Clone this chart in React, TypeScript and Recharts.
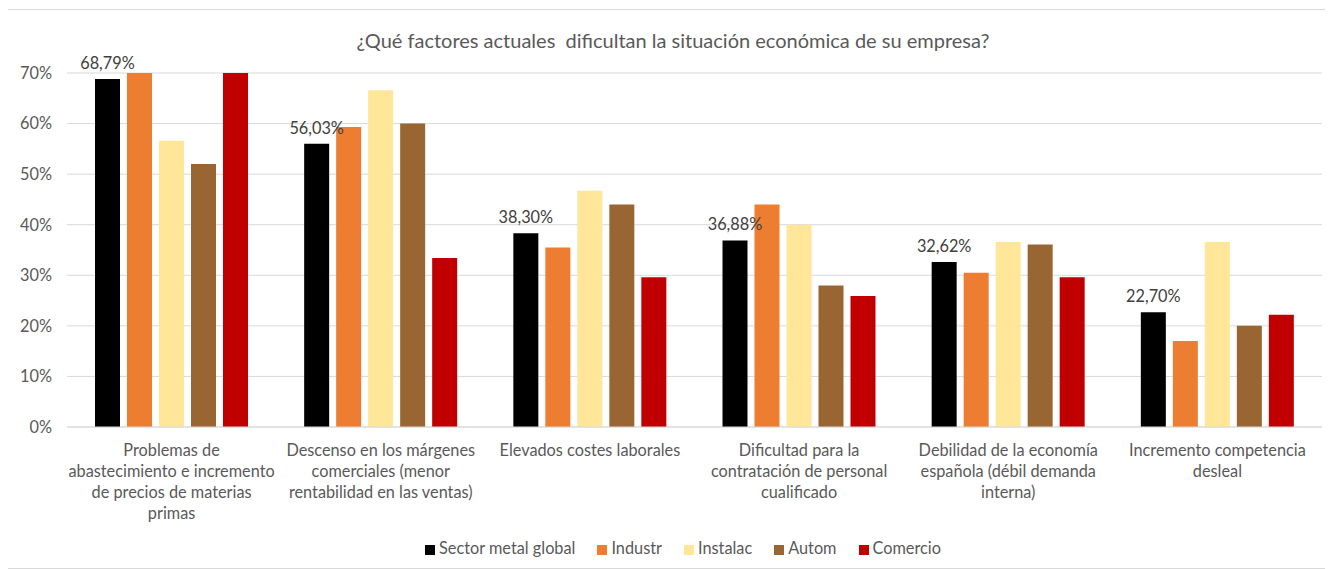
import { Bar, BarChart, CartesianGrid, LabelList, Legend, XAxis, YAxis } from "recharts";

const categories = [
  "Problemas de abastecimiento",
  "Descenso en los márgenes",
  "Elevados costes laborales",
  "Dificultad para la contratación",
  "Debilidad de la economía española",
  "Incremento competencia desleal",
];

// tick labels, line by line as they wrap in the original
const categoryLines = [
  ["Problemas de", "abastecimiento e incremento", "de precios de materias", "primas"],
  ["Descenso en los márgenes", "comerciales (menor", "rentabilidad en las ventas)"],
  ["Elevados costes laborales"],
  ["Dificultad para la", "contratación de personal", "cualificado"],
  ["Debilidad de la economía", "española (débil demanda", "interna)"],
  ["Incremento competencia", "desleal"],
];

const sectorMetalGlobal = [68.79, 56.03, 38.3, 36.88, 32.62, 22.7];
const industr = [70, 59.3, 35.5, 44.0, 30.5, 17.0];
const instalac = [56.6, 66.6, 46.7, 40.0, 36.6, 36.6];
const autom = [52.0, 60.0, 44.0, 28.0, 36.1, 20.0];
const comercio = [70, 33.4, 29.6, 25.9, 29.6, 22.2];

const yTicks = [0, 10, 20, 30, 40, 50, 60, 70];

const series = [
  { key: "global", name: "Sector metal global", color: "#000000", values: sectorMetalGlobal },
  { key: "industr", name: "Industr", color: "#ED7D31", values: industr },
  { key: "instalac", name: "Instalac", color: "#FFE699", values: instalac },
  { key: "autom", name: "Autom", color: "#996633", values: autom },
  { key: "comercio", name: "Comercio", color: "#C00000", values: comercio },
];

const data = categories.map((category, i) => {
  const row: Record<string, string | number> = { category };
  series.forEach((s) => {
    row[s.key] = s.values[i];
  });
  return row;
});

const FONT = "Lato, 'Liberation Sans', sans-serif";
const GREY = "#595959";
const FS = 16.3;

function CategoryTick({ x, y, payload }: any) {
  const lines = categoryLines[categories.indexOf(payload.value)] || [payload.value];
  return (
    <text x={x} y={y} textAnchor="middle" fill={GREY} fontSize={FS} fontFamily={FONT}>
      {lines.map((line, i) => (
        <tspan key={i} x={x} dy={i === 0 ? 27 : 21}>
          {line}
        </tspan>
      ))}
    </text>
  );
}

export default function App() {
  return (
    <div
      style={{
        position: "relative",
        width: 1324,
        height: 558,
        border: "1px solid #d9d9d9",
        margin: "1px 0 0 -1px",
        background: "#fff",
        fontFamily: FONT,
      }}
    >
      <div
        style={{
          position: "absolute",
          top: 19,
          left: 6,
          right: 0,
          textAlign: "center",
          fontSize: 20,
          lineHeight: "22px",
          color: GREY,
          whiteSpace: "pre",
        }}
      >
        {"¿Qué factores actuales  dificultan la situación económica de su empresa?"}
      </div>
      <BarChart
        width={1324}
        height={558}
        data={data}
        margin={{ top: 63, right: 10, left: 0, bottom: 10 }}
        barCategoryGap={28}
        barGap={7}
      >
        <CartesianGrid vertical={false} stroke="#d9d9d9" />
        <XAxis
          dataKey="category"
          height={111}
          interval={0}
          tick={<CategoryTick />}
          tickLine={false}
          tickSize={0}
          axisLine={{ stroke: "#d9d9d9" }}
        />
        <YAxis
          width={59}
          domain={[0, 70]}
          ticks={yTicks}
          tickFormatter={(v) => `${v}%`}
          axisLine={false}
          tickLine={false}
          tickSize={0}
          tickMargin={15}
          tick={{ fill: GREY, fontSize: FS, fontFamily: FONT }}
        />
        <Legend
          verticalAlign="bottom"
          iconType="square"
          iconSize={10}
          itemSorter={null}
          wrapperStyle={{ height: 20, lineHeight: "20px", fontSize: FS, fontFamily: FONT, paddingLeft: 29 }}
          formatter={(v) => <span style={{ color: GREY, paddingRight: 12 }}>{v}</span>}
        />
        {series.map((s, idx) => (
          <Bar key={s.key} dataKey={s.key} name={s.name} fill={s.color} isAnimationActive={false}>
            {idx === 0 && (
              <LabelList
                dataKey={s.key}
                position="top"
                offset={10}
                formatter={(v: any) => `${Number(v).toFixed(2).replace(".", ",")}%`}
                style={{ fill: "#404040", fontSize: FS, fontFamily: FONT }}
              />
            )}
          </Bar>
        ))}
      </BarChart>
    </div>
  );
}
